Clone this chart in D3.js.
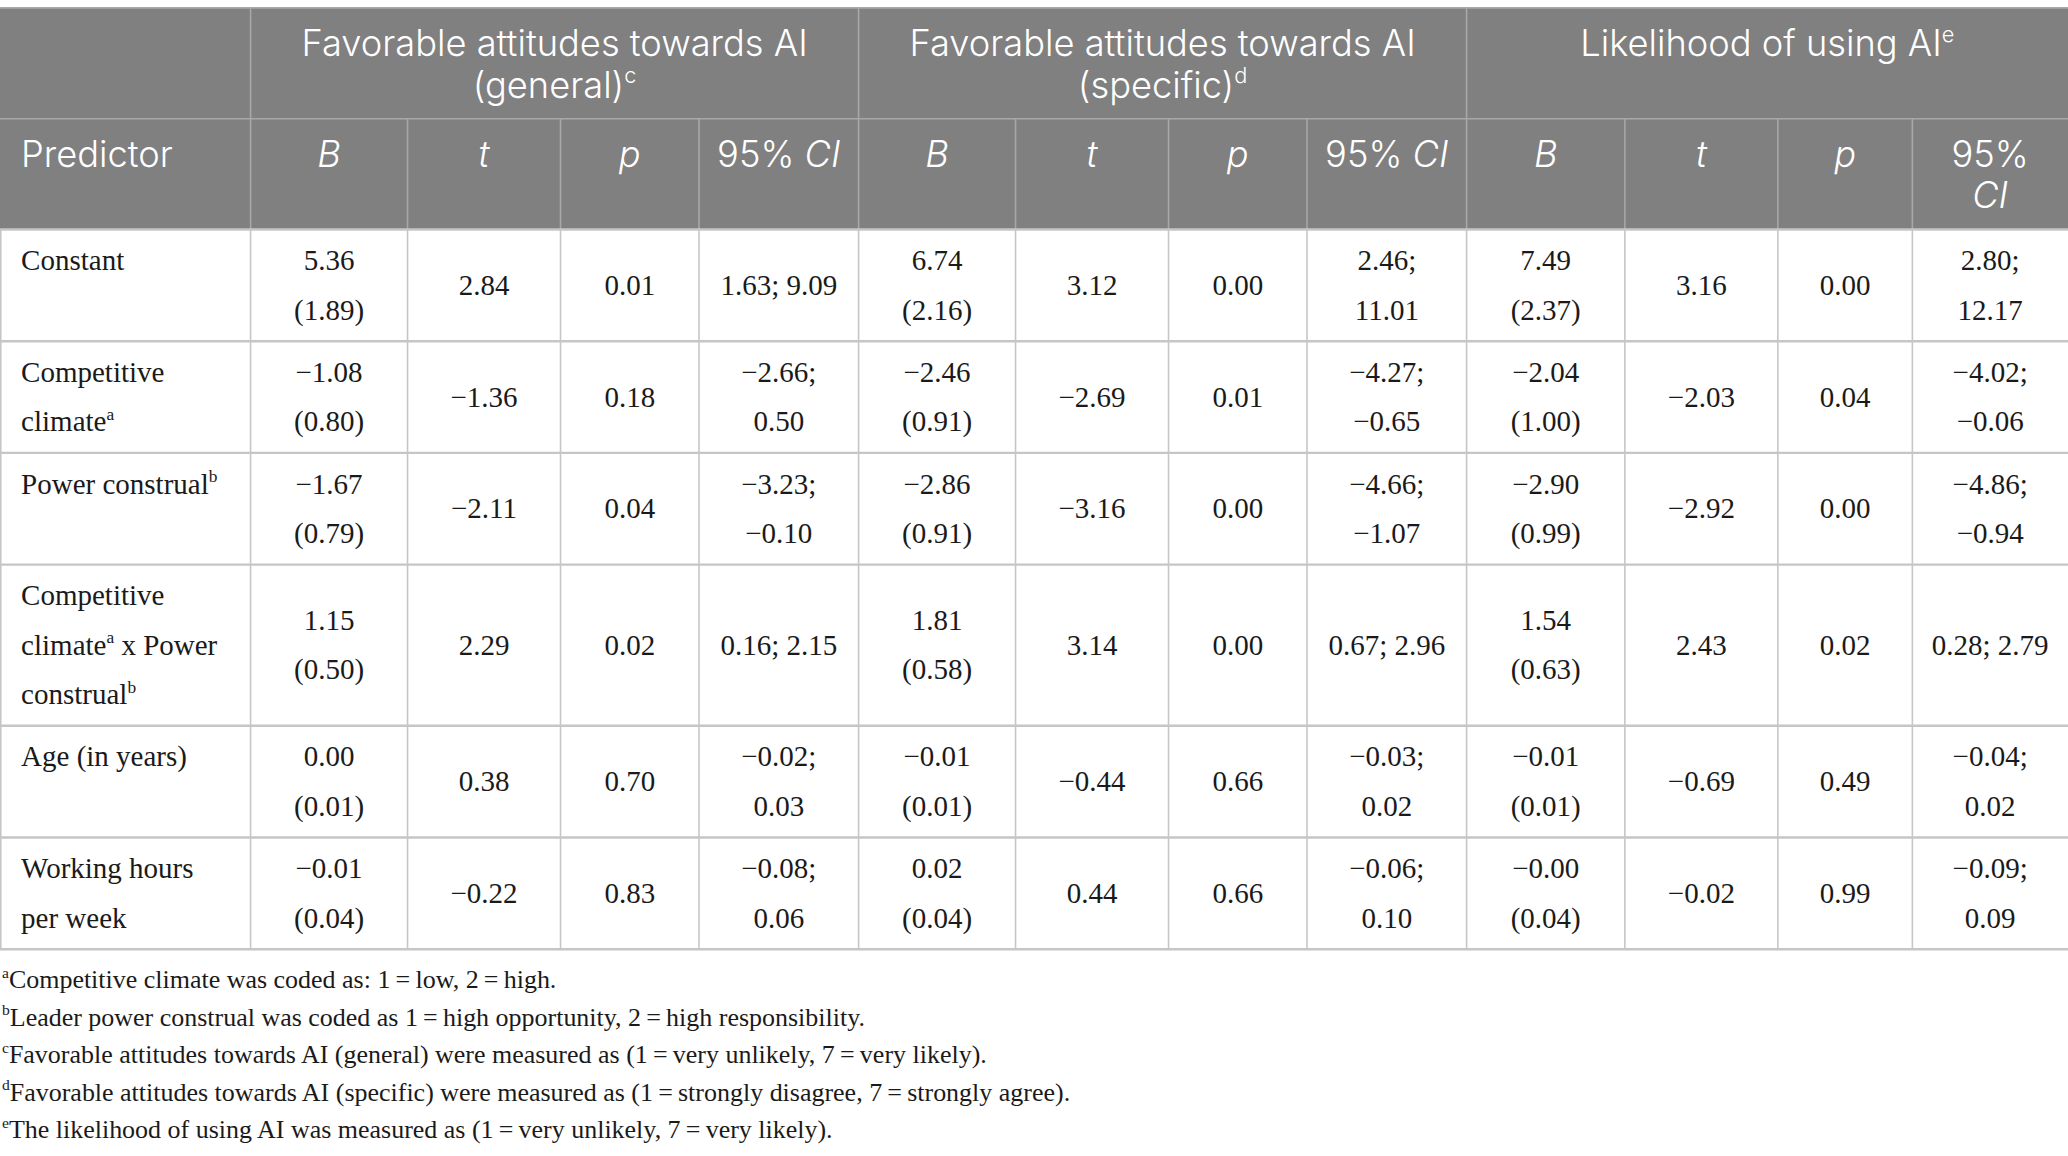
<!DOCTYPE html>
<html><head><meta charset="utf-8">
<script src="https://cdn.jsdelivr.net/npm/d3@7"></script>
<style>body{margin:0;background:#fff}svg{display:block}</style>
</head><body>
<script>
// ---------------- DATA ----------------
const predictorHeader = "Predictor";
const outcomes = [
  "Favorable attitudes towards AI (general)^c",
  "Favorable attitudes towards AI (specific)^d",
  "Likelihood of using AI^e"
];
const statLabels = ["~B~", "~t~", "~p~", "95% ~CI~"];
const predictors = [
  "Constant",
  "Competitive climate^a",
  "Power construal^b",
  "Competitive climate^a x Power construal^b",
  "Age (in years)",
  "Working hours per week"
];
// one array per outcome (general, specific, likelihood), one value per predictor
const B      = [[5.36, -1.08, -1.67, 1.15, 0.00, -0.01], [6.74, -2.46, -2.86, 1.81, -0.01, 0.02], [7.49, -2.04, -2.90, 1.54, -0.01, -0.00]];
const SE     = [[1.89, 0.80, 0.79, 0.50, 0.01, 0.04],    [2.16, 0.91, 0.91, 0.58, 0.01, 0.04],    [2.37, 1.00, 0.99, 0.63, 0.01, 0.04]];
const tVal   = [[2.84, -1.36, -2.11, 2.29, 0.38, -0.22], [3.12, -2.69, -3.16, 3.14, -0.44, 0.44], [3.16, -2.03, -2.92, 2.43, -0.69, -0.02]];
const pVal   = [[0.01, 0.18, 0.04, 0.02, 0.70, 0.83],    [0.00, 0.01, 0.00, 0.00, 0.66, 0.66],    [0.00, 0.04, 0.00, 0.02, 0.49, 0.99]];
const ciLow  = [[1.63, -2.66, -3.23, 0.16, -0.02, -0.08], [2.46, -4.27, -4.66, 0.67, -0.03, -0.06], [2.80, -4.02, -4.86, 0.28, -0.04, -0.09]];
const ciHigh = [[9.09, 0.50, -0.10, 2.15, 0.03, 0.06],   [11.01, -0.65, -1.07, 2.96, 0.02, 0.10], [12.17, -0.06, -0.94, 2.79, 0.02, 0.09]];
const footnotes = [
  "^aCompetitive climate was coded as: 1\u2009=\u2009low, 2\u2009=\u2009high.",
  "^bLeader power construal was coded as 1\u2009=\u2009high opportunity, 2\u2009=\u2009high responsibility.",
  "^cFavorable attitudes towards AI (general) were measured as (1\u2009=\u2009very unlikely, 7\u2009=\u2009very likely).",
  "^dFavorable attitudes towards AI (specific) were measured as (1\u2009=\u2009strongly disagree, 7\u2009=\u2009strongly agree).",
  "^eThe likelihood of using AI was measured as (1\u2009=\u2009very unlikely, 7\u2009=\u2009very likely)."
];

// ---------------- LAYOUT ----------------
const W = 1568, H = 876.5;
const colEdges = [0, 190, 309, 425, 530, 651, 770, 886, 991, 1112, 1232, 1348, 1450, 1568];
const tableTop = 6, head1H = 84, head2H = 84;
const lineH = 37.5, rowPad = 9.7;
const bodyFS = 22, headFS = 27.5, noteFS = 19.7;
const serif = "'Liberation Serif','Times New Roman',serif";
const sans = "Inter,Lato,sans-serif";
const headW = 300;
const headGray = "#7f807f", headLine = "#a8a8a8", bodyLine = "#c6c6c6", ink = "#1a1a1a";
const cellPad = 14, headPad = 13, predX = 16, predPadR = 19;

const fmt = v => ((v < 0 || Object.is(v, -0)) ? "\u2212" : "") + Math.abs(v).toFixed(2);

const svg = d3.select("body").append("svg")
  .attr("width", 2068).attr("height", 1156)
  .attr("viewBox", `0 0 ${W} ${H}`);

function parseRich(s) {
  const out = []; let buf = "", it = false;
  for (let i = 0; i < s.length; i++) {
    const c = s[i];
    if (c === "^") { if (buf) out.push({t: buf, it}); buf = ""; out.push({t: s[i + 1], sup: true, it}); i++; continue; }
    if (c === "~") { if (buf) out.push({t: buf, it}); buf = ""; it = !it; continue; }
    buf += c;
  }
  if (buf) out.push({t: buf, it});
  return out;
}
function rich(sel, str, fs) {
  let raised = false;
  parseRich(str).forEach(seg => {
    const ts = sel.append("tspan").text(seg.t);
    if (seg.it) ts.attr("font-style", "italic");
    if (seg.sup) { ts.attr("font-size", fs * 0.6).attr("dy", -fs * 0.4); raised = true; }
    else if (raised) { ts.attr("dy", fs * 0.4); raised = false; }
  });
  return sel;
}
const meas = svg.append("text").attr("visibility", "hidden");
function width(str, family, fs, weight) {
  meas.selectAll("*").remove();
  meas.attr("font-family", family).attr("font-size", fs).attr("font-weight", weight || 400);
  rich(meas, str, fs);
  return meas.node().getComputedTextLength();
}
function wrap(str, maxW, family, fs, weight) {
  const words = str.split(" ");
  const lines = []; let cur = "";
  words.forEach(w => {
    const cand = cur ? cur + " " + w : w;
    if (cur && width(cand, family, fs, weight) > maxW) { lines.push(cur); cur = w; }
    else cur = cand;
  });
  if (cur) lines.push(cur);
  return lines;
}

// ---------------- CELLS ----------------
const statCols = d3.range(12).map(i => ({g: Math.floor(i / 4), s: i % 4, x0: colEdges[i + 1], x1: colEdges[i + 2]}));
const rows = predictors.map((p, r) => {
  const predLines = wrap(p, colEdges[1] - predX - predPadR, serif, bodyFS);
  const cells = statCols.map(c => {
    const g = c.g;
    const txt = [fmt(B[g][r]) + " (" + fmt(SE[g][r]) + ")", fmt(tVal[g][r]), fmt(pVal[g][r]),
                 fmt(ciLow[g][r]) + "; " + fmt(ciHigh[g][r])][c.s];
    return {c, lines: wrap(txt, c.x1 - c.x0 - 2 * cellPad, serif, bodyFS)};
  });
  const n = d3.max([predLines.length, ...cells.map(d => d.lines.length)]);
  return {predLines, cells, h: n * lineH + rowPad};
});
const bodyTop = tableTop + head1H + head2H;
const rowY = [bodyTop, ...d3.cumsum(rows, d => d.h).map(v => v + bodyTop)];
const y = d3.scaleOrdinal().domain(d3.range(rowY.length)).range(rowY);
const bodyBottom = y(rows.length);

// ---------------- HEADER ----------------
svg.append("rect").attr("x", 0).attr("y", tableTop).attr("width", W).attr("height", head1H + head2H).attr("fill", headGray);
const hl = svg.append("g").attr("stroke", headLine).attr("stroke-width", 1.2);
hl.append("line").attr("x1", 0).attr("x2", W).attr("y1", tableTop).attr("y2", tableTop);
hl.append("line").attr("x1", 0).attr("x2", W).attr("y1", tableTop + head1H).attr("y2", tableTop + head1H);
[colEdges[1], colEdges[5], colEdges[9]].forEach(x => hl.append("line").attr("x1", x).attr("x2", x).attr("y1", tableTop).attr("y2", tableTop + head1H));
colEdges.slice(1, -1).forEach(x => hl.append("line").attr("x1", x).attr("x2", x).attr("y1", tableTop + head1H).attr("y2", bodyTop));

const headG = svg.append("g").attr("font-family", sans).attr("font-weight", headW).attr("font-size", headFS).attr("fill", "#fff");
outcomes.forEach((o, g) => {
  const x0 = colEdges[1 + 4 * g], x1 = colEdges[5 + 4 * g];
  wrap(o, x1 - x0 - 2 * headPad, sans, headFS, headW).forEach((ln, k) => {
    rich(headG.append("text").attr("text-anchor", "middle").attr("x", (x0 + x1) / 2)
      .attr("y", tableTop + 36.5 + k * 31.5), ln, headFS);
  });
});
headG.append("text").attr("x", predX).attr("y", tableTop + head1H + 36.5).text(predictorHeader);
statCols.forEach(c => {
  wrap(statLabels[c.s], c.x1 - c.x0 - 2 * headPad, sans, headFS, headW).forEach((ln, k) => {
    rich(headG.append("text").attr("text-anchor", "middle").attr("x", (c.x0 + c.x1) / 2)
      .attr("y", tableTop + head1H + 36.5 + k * 31.5), ln, headFS);
  });
});

// ---------------- BODY GRID ----------------
const bl = svg.append("g").attr("stroke", bodyLine);
colEdges.slice(0, -1).forEach(x => bl.append("line").attr("x1", Math.max(x, 0.6)).attr("x2", Math.max(x, 0.6))
  .attr("y1", bodyTop).attr("y2", bodyBottom).attr("stroke-width", 1.2));
rowY.forEach(v => bl.append("line").attr("x1", 0).attr("x2", W).attr("y1", v).attr("y2", v).attr("stroke-width", 1.8));

// ---------------- BODY TEXT ----------------
const bodyG = svg.append("g").attr("font-family", serif).attr("font-size", bodyFS).attr("fill", ink);
const base = bodyFS * 0.33;
rows.forEach((row, r) => {
  const top = y(r), mid = top + row.h / 2;
  row.predLines.forEach((ln, k) => {
    rich(bodyG.append("text").attr("x", predX).attr("y", top + rowPad / 2 + lineH / 2 + k * lineH + base), ln, bodyFS);
  });
  row.cells.forEach(cell => {
    const n = cell.lines.length;
    cell.lines.forEach((ln, k) => {
      rich(bodyG.append("text").attr("text-anchor", "middle").attr("x", (cell.c.x0 + cell.c.x1) / 2)
        .attr("y", mid + (k - (n - 1) / 2) * lineH + base), ln, bodyFS);
    });
  });
});

// ---------------- FOOTNOTES ----------------
const noteG = svg.append("g").attr("font-family", serif).attr("font-size", noteFS).attr("fill", ink);
footnotes.forEach((f, i) => {
  rich(noteG.append("text").attr("x", 1.5).attr("y", bodyBottom + 29.5 + i * 28.5), f, noteFS);
});
</script>
</body></html>
